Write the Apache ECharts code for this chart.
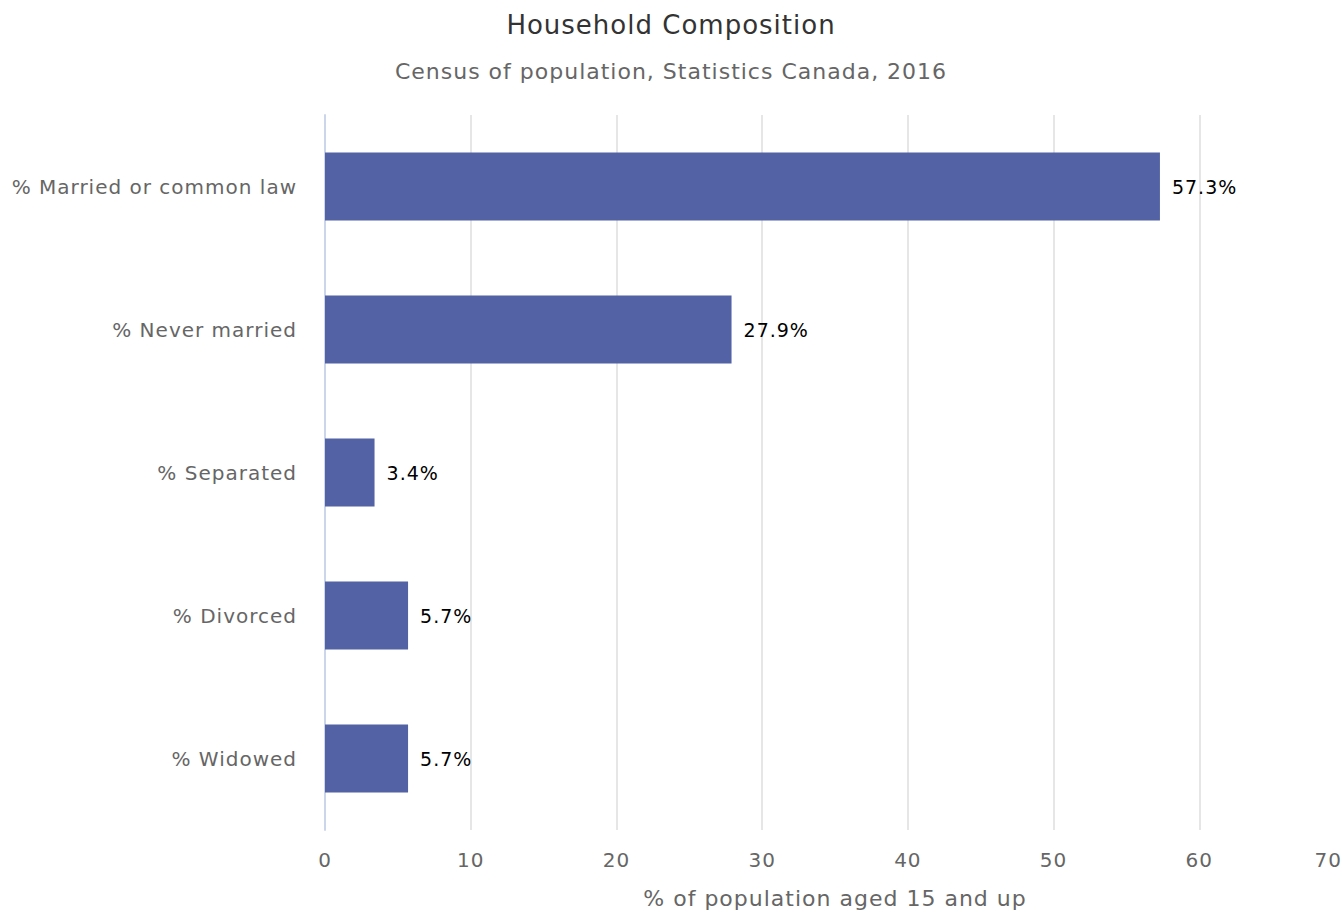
<!DOCTYPE html>
<html><head><meta charset="utf-8">
<script src="https://cdn.jsdelivr.net/npm/echarts@6/dist/echarts.min.js"></script>
<style>html,body{margin:0;padding:0;background:#fff;overflow:hidden}#c{width:1342px;height:914px}#c text{letter-spacing:1px}</style>
</head><body><div id="c"></div>
<script>
var categories = ['% Married or common law', '% Never married', '% Separated', '% Divorced', '% Widowed'];
var values = [57.3, 27.9, 3.4, 5.7, 5.7];
var xTicks = [0, 10, 20, 30, 40, 50, 60, 70];
var FONT = 'DejaVu Sans';
var xMax = xTicks[xTicks.length - 1];
var chart = echarts.init(document.getElementById('c'), null, {renderer: 'svg'});
chart.setOption({
  animation: false,
  title: [
    {text: 'Household Composition', left: 'center', top: 7, textStyle: {fontFamily: FONT, fontSize: 26, fontWeight: 'normal', color: '#333333'}},
    {text: 'Census of population, Statistics Canada, 2016', left: 'center', top: 55, textStyle: {fontFamily: FONT, fontSize: 22, fontWeight: 'normal', color: '#666666'}}
  ],
  grid: {left: 325, width: 1020, top: 115, bottom: 84, containLabel: false, outerBoundsMode: 'none'},
  xAxis: {
    type: 'value', min: xTicks[0], max: xMax, interval: 10,
    axisLine: {show: false}, axisTick: {show: false},
    splitLine: {show: true, lineStyle: {color: '#e6e6e6', width: 2}},
    axisLabel: {
      fontFamily: FONT, fontSize: 20, color: '#666666', margin: 20, alignMaxLabel: 'right',
      formatter: function (v) { return v === xMax ? '{m|' + v + '}' : String(v); },
      rich: {m: {fontFamily: FONT, fontSize: 20, color: '#666666', padding: [0, 3, 0, 0]}}
    },
    name: '% of population aged 15 and up', nameLocation: 'middle', nameGap: 57,
    nameTextStyle: {fontFamily: FONT, fontSize: 22, color: '#666666'}
  },
  yAxis: {
    type: 'category', data: categories, inverse: true,
    axisLine: {show: true, lineStyle: {color: '#ccd6eb', width: 2}},
    axisTick: {show: false},
    axisLabel: {fontFamily: FONT, fontSize: 20, color: '#666666', margin: 28}
  },
  series: [{
    type: 'bar', data: values, barWidth: 68,
    itemStyle: {color: '#5262a5'},
    label: {show: true, position: 'right', distance: 12, formatter: '{c}%', fontFamily: FONT, fontSize: 19, color: '#000000'}
  }]
});
</script></body></html>
